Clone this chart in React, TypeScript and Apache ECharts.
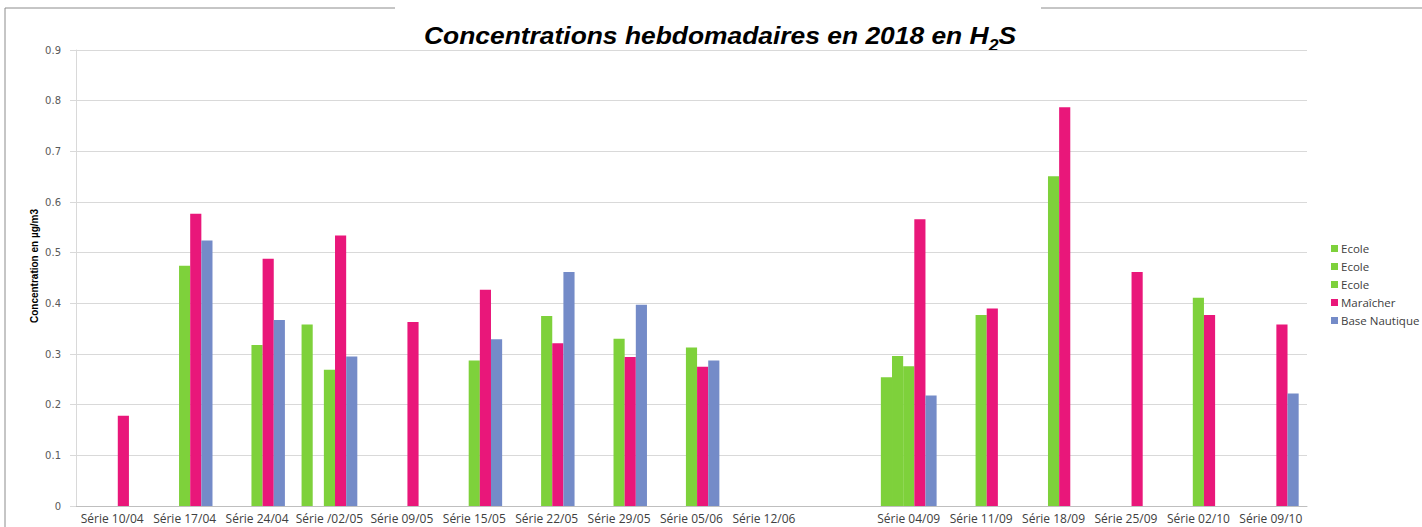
import React, { useEffect, useRef } from "react";
import * as echarts from "echarts";

const categories = [
  "Série 10/04", "Série 17/04", "Série 24/04", "Série /02/05", "Série 09/05",
  "Série 15/05", "Série 22/05", "Série 29/05", "Série 05/06", "Série 12/06",
  "", "Série 04/09", "Série 11/09", "Série 18/09", "Série 25/09", "Série 02/10", "Série 09/10",
];

const ecole1 = [null, null, null, 0.358, null, null, null, null, null, null, null, 0.254, null, null, null, null, null];
const ecole2 = [null, null, null, null, null, null, null, null, null, null, null, 0.296, null, null, null, null, null];
const ecole3 = [null, 0.474, 0.318, 0.269, null, 0.287, 0.375, 0.330, 0.313, null, null, 0.276, 0.377, 0.651, null, 0.411, null];
const maraicher = [0.178, 0.577, 0.488, 0.534, 0.363, 0.427, 0.321, 0.294, 0.275, null, null, 0.566, 0.390, 0.787, 0.462, 0.377, 0.358];
const baseNautique = [null, 0.524, 0.367, 0.295, null, 0.329, 0.462, 0.397, 0.287, null, null, 0.218, null, null, null, null, 0.222];

const seriesNames = ["Ecole 1", "Ecole 2", "Ecole 3", "Maraîcher", "Base Nautique"];
const seriesColors = ["#7ED13B", "#7ED13B", "#7ED13B", "#E9177A", "#748BC8"];
const seriesValues = [ecole1, ecole2, ecole3, maraicher, baseNautique];

const titleFont = "Liberation Sans, Arial, sans-serif";

export default function App() {
  const ref = useRef<HTMLDivElement>(null);
  useEffect(() => {
    if (!ref.current) return;
    const chart = echarts.init(ref.current, null, { renderer: "svg" });
    chart.setOption({
      animation: false,
      backgroundColor: "#fff",
      legend: {
        orient: "vertical",
        left: 1326,
        top: 237,
        itemWidth: 7,
        itemHeight: 7,
        itemGap: 5,
        icon: "rect",
        data: seriesNames,
        formatter: (name: string) => (name.startsWith("Ecole") ? "Ecole" : name),
        textStyle: {
          fontFamily: "Open Sans, sans-serif",
          fontSize: 11.5,
          color: "#404040",
          lineHeight: 13,
          padding: [0, 0, 0, -2],
        },
        selectedMode: false,
      },
      grid: { left: 76, right: 115, top: 50, bottom: 21, containLabel: false },
      xAxis: {
        type: "category",
        data: categories,
        axisLine: { show: true, lineStyle: { color: "#BFBFBF", width: 1 } },
        axisTick: { show: false },
        axisLabel: {
          interval: 0,
          margin: 6,
          fontFamily: "Open Sans, sans-serif",
          fontSize: 12,
          color: "#404040",
        },
      },
      yAxis: {
        type: "value",
        min: 0,
        max: 0.9,
        interval: 0.1,
        axisLine: { show: true, lineStyle: { color: "#D9D9D9", width: 1 } },
        axisTick: { show: true, length: 6, lineStyle: { color: "#D9D9D9" } },
        splitLine: { show: true, lineStyle: { color: "#D9D9D9", width: 1 } },
        axisLabel: {
          margin: 15,
          fontFamily: "DejaVu Sans, sans-serif",
          fontSize: 10,
          color: "#595959",
          formatter: (v: number) => (v === 0 ? "0" : v.toFixed(1)),
        },
      },
      graphic: [
        { type: "line", shape: { x1: 5, y1: 8, x2: 395, y2: 8 }, style: { stroke: "#8C8C8C", lineWidth: 1 } },
        { type: "line", shape: { x1: 1041, y1: 8, x2: 1422, y2: 8 }, style: { stroke: "#8C8C8C", lineWidth: 1 } },
        { type: "line", shape: { x1: 5, y1: 8, x2: 5, y2: 527 }, style: { stroke: "#8C8C8C", lineWidth: 1 } },
        {
          type: "text",
          x: 720,
          y: 35,
          scaleX: 1.1,
          style: {
            text: "{a|Concentrations hebdomadaires en 2018 en H}{s|2}{a|S}",
            textAlign: "center",
            textVerticalAlign: "middle",
            rich: {
              a: {
                fontFamily: titleFont,
                fontSize: 24,
                fontWeight: "bold",
                fontStyle: "italic",
                fill: "#000",
                lineHeight: 30,
              },
              s: {
                fontFamily: titleFont,
                fontSize: 16,
                fontWeight: "bold",
                fontStyle: "italic",
                fill: "#000",
                lineHeight: 16,
                padding: [18, 0, 0, 0],
                verticalAlign: "top",
              },
            },
          },
        },
        {
          type: "text",
          x: 34,
          y: 266,
          rotation: Math.PI / 2,
          style: {
            text: "Concentration en µg/m3",
            fontFamily: "Liberation Sans Narrow, Liberation Sans, Arial, sans-serif",
            fontSize: 10,
            fontWeight: "bold",
            fill: "#000",
            textAlign: "center",
            textVerticalAlign: "middle",
          },
        },
      ],
      series: seriesNames.map((name, i) => ({
        name,
        type: "bar",
        data: seriesValues[i],
        barGap: "0%",
        barCategoryGap: "23%",
        itemStyle: { color: seriesColors[i] },
      })),
    });
    return () => chart.dispose();
  }, []);
  return (
    <div
      ref={ref}
      style={{ position: "fixed", left: 0, top: 0, width: 1422, height: 527 }}
    />
  );
}
